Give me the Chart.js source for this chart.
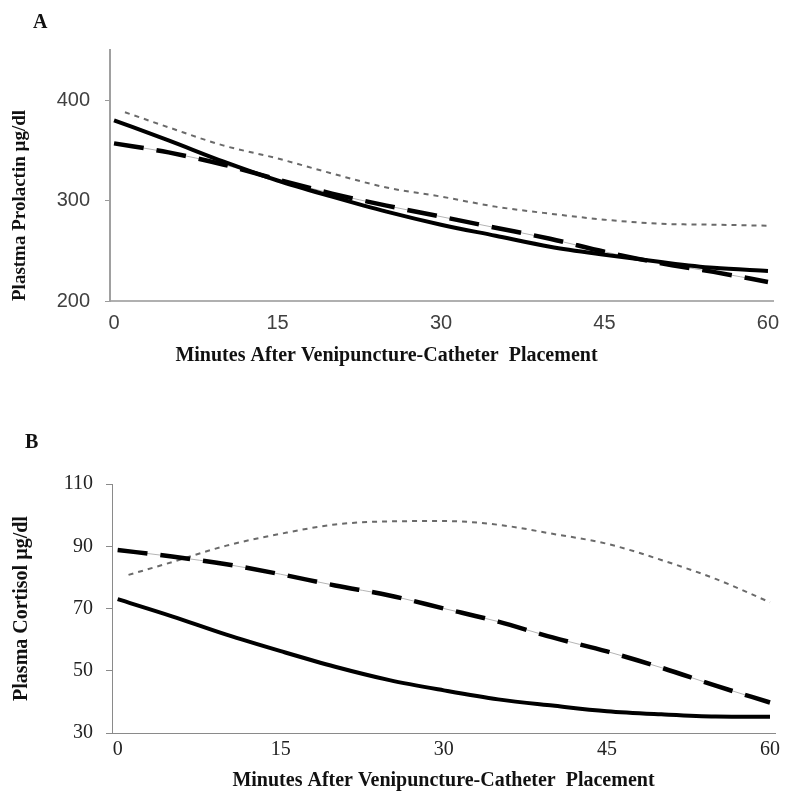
<!DOCTYPE html>
<html><head><meta charset="utf-8">
<script src="https://cdn.jsdelivr.net/npm/chart.js@4.4.1/dist/chart.umd.min.js"></script>
<style>
html,body{margin:0;padding:0;background:#fff;}
#wrap{position:relative;width:800px;height:812px;overflow:hidden;background:#fff;}
canvas{position:absolute;left:0;}
.panel{position:absolute;font-family:"Liberation Serif","Times New Roman",serif;font-weight:bold;font-size:20px;color:#111;line-height:1;}
</style></head><body>
<div id="wrap">
<canvas id="cA" width="800" height="400" style="top:0px"></canvas>
<canvas id="cB" width="800" height="412" style="top:400px"></canvas>
<div class="panel" style="left:33px;top:11px">A</div>
<div class="panel" style="left:25px;top:431px">B</div>
</div>
<script>
// ---- Data ----
const minutes = [0,5,10,15,20,25,30,35,40,45,50,55,60];
const minutesDotted = [1,5,10,15,20,25,30,35,40,45,50,55,60];
const xTickValues = [0,15,30,45,60];

// Panel A: Plasma Prolactin
const prolactinSolid  = [380,360,339,320,304,289,276,265,254,246,239,233,230];
const prolactinDashed = [357,348,336,321,307,295,284,273,262,249,238,229,219];
const prolactinDotted = [388,373,355,342,327,313,304,294,287,281,277,276,275];
const prolactinTicks  = [200,300,400];

// Panel B: Plasma Cortisol
const cortisolSolid  = [73,67.5,61.6,56.3,51.3,47,43.7,40.8,38.8,37,36,35.3,35.2];
const cortisolDashed = [88.8,86.7,84.2,81,77.4,74.2,70,65.8,60.7,56.2,51,45.2,39.8];
const cortisolDotted = [80.8,84.9,90.2,94,97,98,98.1,96.9,94,90.8,85.6,79.5,72];
const cortisolTicks  = [30,50,70,90,110];

const xTitle = 'Minutes After Venipuncture-Catheter  Placement';
const yTitleA = 'Plastma Prolactin \u00b5g/dl';
const yTitleB = 'Plasma Cortisol \u00b5g/dl';

const SERIF = '"Liberation Serif","Times New Roman",serif';
const SANS = '"Liberation Sans",Arial,sans-serif';

function pts(xs, ys){ return xs.map((x,i)=>({x:x, y:ys[i]})); }

function datasets(solid, dashed, dotted){
  return [
    {data:pts(minutes, solid), borderColor:'#000', borderWidth:4, order:0},
    {data:pts(minutes, dashed), borderColor:'#000', borderWidth:4.5, borderDash:[30,13], borderCapStyle:'butt', order:0},
    {data:pts(minutesDotted, dotted), borderColor:'#6a6a6a', borderWidth:2, borderDash:[5,5], order:0},
    {data:pts(minutes, dashed), borderColor:'#b5b5b5', borderWidth:1, order:5}
  ].map(d=>Object.assign({pointRadius:0, fill:false, cubicInterpolationMode:'monotone'}, d));
}

Chart.defaults.animation = false;

// ---- Panel A ----
new Chart(document.getElementById('cA'), {
  type:'line',
  data:{datasets:datasets(prolactinSolid, prolactinDashed, prolactinDotted)},
  options:{
    responsive:false, devicePixelRatio:1, animation:false,
    layout:{padding:{left:0,right:27,top:50,bottom:0}},
    plugins:{
      legend:{display:false}, tooltip:{enabled:false},
      title:{display:true, position:'bottom', text:xTitle, color:'#111',
        font:{family:SERIF, size:20, weight:'bold'}, padding:{top:0,bottom:32}}
    },
    scales:{
      x:{type:'linear', min:-0.37, max:60.46,
        afterBuildTicks:s=>{ s.ticks = xTickValues.map(v=>({value:v})); },
        afterFit:s=>{ s.height = 43; },
        grid:{display:false, drawTicks:false},
        border:{display:true, color:'#b0b0b0', width:2},
        ticks:{font:{family:SANS, size:20}, color:'#404040', padding:10, maxRotation:0}
      },
      y:{min:200, max:450,
        afterBuildTicks:s=>{ s.ticks = prolactinTicks.map(v=>({value:v})); },
        afterFit:s=>{ s.width = 110; },
        grid:{display:true, drawOnChartArea:false, drawTicks:true, tickLength:5, color:'#9a9a9a'},
        border:{display:true, color:'#a0a0a0', width:2},
        ticks:{font:{family:SANS, size:20}, color:'#404040', padding:15},
        title:{display:true, text:yTitleA, align:'start', color:'#111',
          font:{family:SERIF, size:19, weight:'bold'}, padding:{top:9,bottom:0}}
      }
    }
  }
});

// ---- Panel B ----
new Chart(document.getElementById('cB'), {
  type:'line',
  data:{datasets:datasets(cortisolSolid, cortisolDashed, cortisolDotted)},
  options:{
    responsive:false, devicePixelRatio:1, animation:false,
    layout:{padding:{left:0,right:25,top:84,bottom:0}},
    plugins:{legend:{display:false}, tooltip:{enabled:false}},
    scales:{
      x:{type:'linear', min:-0.52, max:60.46,
        afterBuildTicks:s=>{ s.ticks = xTickValues.map(v=>({value:v})); },
        afterFit:s=>{ s.height = 79; },
        grid:{display:false, drawTicks:false},
        border:{display:true, color:'#8a8a8a', width:1},
        ticks:{font:{family:SERIF, size:20}, color:'#222', padding:5, maxRotation:0},
        title:{display:true, text:xTitle, color:'#111',
          font:{family:SERIF, size:20, weight:'bold'}, padding:{top:0,bottom:19}}
      },
      y:{min:30, max:110,
        afterBuildTicks:s=>{ s.ticks = cortisolTicks.map(v=>({value:v})); },
        afterFit:s=>{ s.width = 112; },
        grid:{display:true, drawOnChartArea:false, drawTicks:true, tickLength:6, color:'#8a8a8a'},
        border:{display:true, color:'#8a8a8a', width:1},
        ticks:{font:{family:SERIF, size:20}, color:'#222', padding:13},
        title:{display:true, text:yTitleB, color:'#111',
          font:{family:SERIF, size:20, weight:'bold'}, padding:{top:10,bottom:0}}
      }
    }
  }
});
</script>
</body></html>
